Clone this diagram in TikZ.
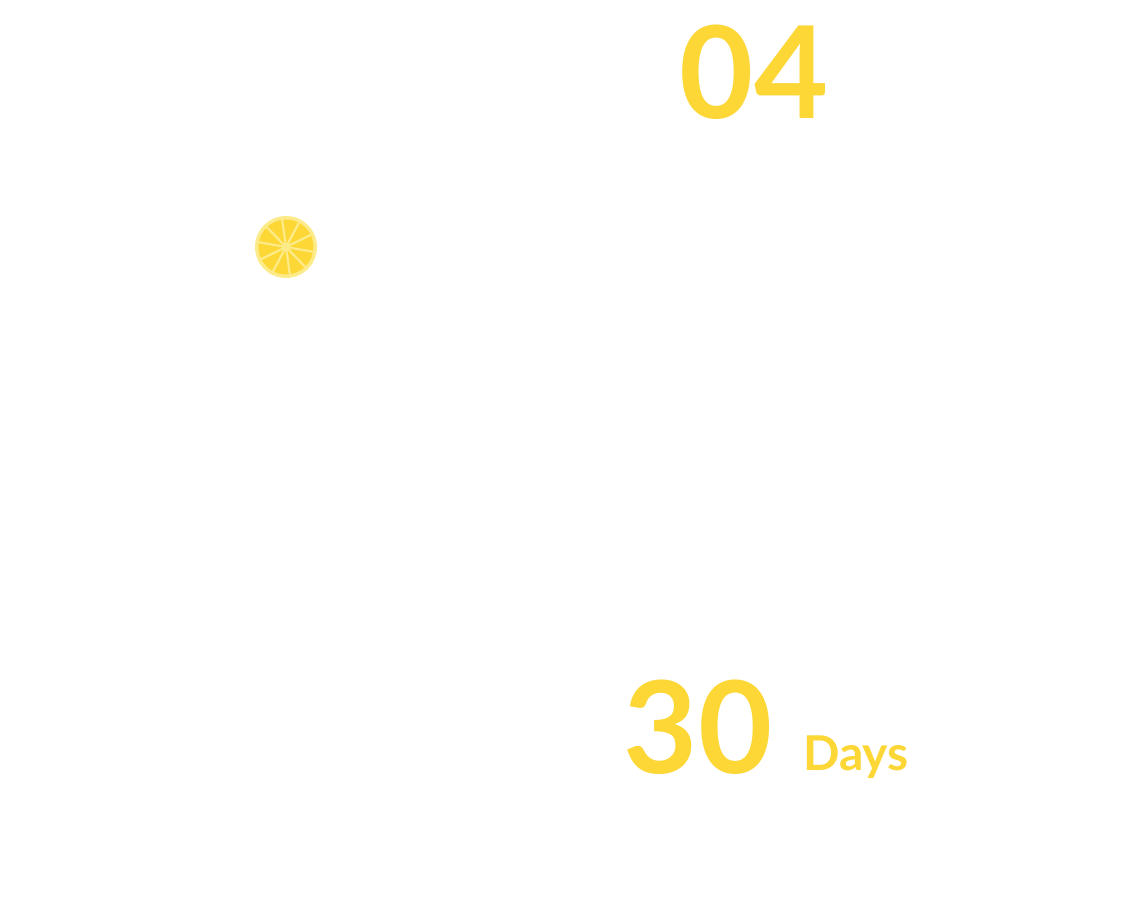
\documentclass[tikz,border=0pt]{standalone}
\usepackage{fontspec}
\setmainfont{Lato}
\definecolor{lemon}{HTML}{FCD735}
\definecolor{lemonlight}{HTML}{FDEB8A}
\begin{document}
\begin{tikzpicture}[x=1pt,y=-1pt,
  bignum/.style={text=lemon,font=\fontsize{128}{128}\selectfont\bfseries,inner sep=0pt,anchor=base},
  unit/.style={text=lemon,font=\fontsize{48}{48}\selectfont\bfseries,inner sep=0pt,anchor=base west}]
\useasboundingbox (0,0) rectangle (1134,899);
\fill[white] (0,0) rectangle (1134,899);
\node[bignum] (n04) at (754,118) {04};
\node[bignum] (n30) at (698,773) {30};
\node[unit] (days) at (803,770) {Days};
% lemon
\coordinate (lc) at (286,247);
\fill[lemonlight] (lc) circle (31);
\fill[lemon] (lc) circle (27.5);
\foreach \a in {0,36,...,324}{
  \draw[lemonlight,line width=2.2pt] (lc) -- ++(\a+10:28);
}
\fill[lemonlight] (lc) circle (4);
\end{tikzpicture}
\end{document}
